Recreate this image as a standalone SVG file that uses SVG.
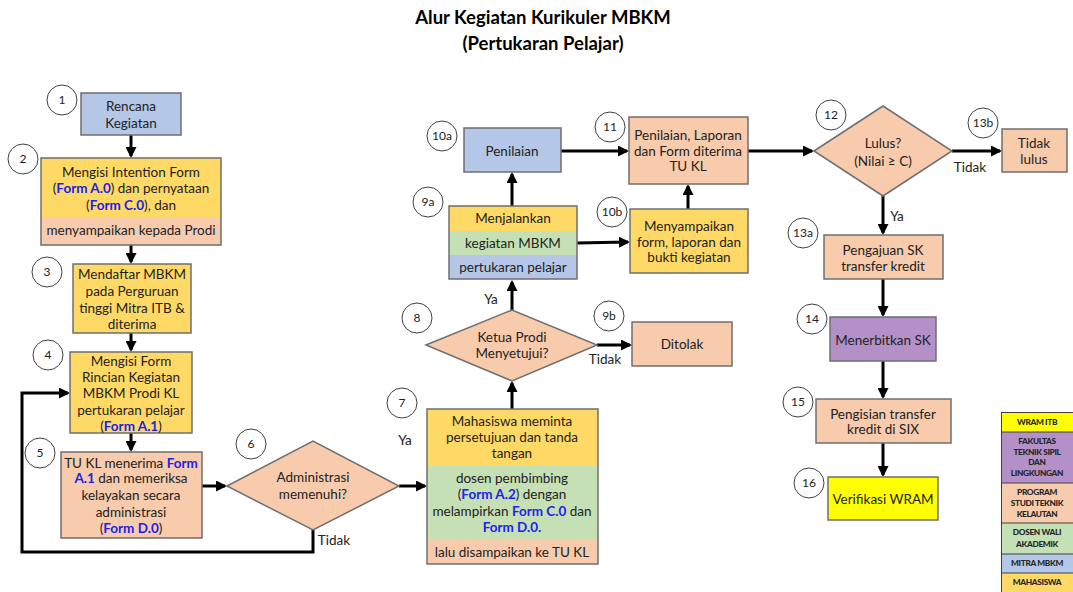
<svg xmlns="http://www.w3.org/2000/svg" width="1073" height="592" viewBox="0 0 1073 592">
<defs>
<marker id="ah" markerWidth="11" markerHeight="11" refX="9" refY="5.5" orient="auto" markerUnits="userSpaceOnUse">
<path d="M0,0 L11,5.5 L0,11 Z" fill="#000"/>
</marker>
<style>
text{font-family:Lato,"Liberation Sans",sans-serif;font-size:13.5px;fill:#222;text-anchor:middle}
.t{font-size:18.5px;font-weight:bold;fill:#000}
.b{fill:#2020ee;font-weight:bold}
.n{font-size:12px}
.lg{font-size:8.3px;font-weight:900;letter-spacing:-0.35px;fill:#262626}
.bx{stroke:#6f6f6f;stroke-width:1.5}
.blue{fill:#b4c7e7}.yel{fill:#ffd966}.peach{fill:#f8cbad}.green{fill:#c5e0b4}.purp{fill:#b391c8}.wram{fill:#ffff00}
.c{fill:#fff;stroke:#404040;stroke-width:1}
.cn path{fill:none;stroke:#000;stroke-width:3;marker-end:url(#ah)}
</style>
</defs>
<rect width="1073" height="592" fill="#fff"/>
<text class="t" x="543" y="24">Alur Kegiatan Kurikuler MBKM</text>
<text class="t" x="543" y="50">(Pertukaran Pelajar)</text>

<g id="connectors" class="cn">
<path d="M131,135 V156"/>
<path d="M131,245 V262"/>
<path d="M131,333 V350"/>
<path d="M131,433 V450"/>
<path d="M202,486 H225"/>
<path d="M313,530 V552 H22 V393 H68"/>
<path d="M399,486 H425"/>
<path d="M512,409 V383"/>
<path d="M597,345 H630"/>
<path d="M512,310 V282"/>
<path d="M512,206 V174"/>
<path d="M577,243 L628,242"/>
<path d="M561,151 H627"/>
<path d="M688,209 V186"/>
<path d="M748,151 H812"/>
<path d="M952,151 H1000"/>
<path d="M883,196 V233"/>
<path d="M883,279 V315"/>
<path d="M883,361 V397"/>
<path d="M883,443 V475"/>
</g>
<g id="edge-labels">
<text x="334" y="545">Tidak</text>
<text x="405" y="445">Ya</text>
<text x="605" y="364">Tidak</text>
<text x="491" y="304">Ya</text>
<text x="970" y="172">Tidak</text>
<text x="897" y="221">Ya</text>
</g>

<g id="n1">
<rect class="bx blue" x="81" y="93" width="100" height="42"/>
<text x="131" y="111">Rencana</text><text x="131" y="128">Kegiatan</text>
<circle class="c" cx="62" cy="100" r="15"/><text class="n" x="62" y="104">1</text>
</g>
<g id="n2">
<rect class="yel" x="41" y="158" width="180" height="59"/>
<rect class="peach" x="41" y="217" width="180" height="28"/>
<rect class="bx" fill="none" x="41" y="158" width="180" height="87"/>
<text x="131" y="177">Mengisi Intention Form</text>
<text x="131" y="193">(<tspan class="b">Form A.0</tspan>) dan pernyataan</text>
<text x="131" y="210">(<tspan class="b">Form C.0</tspan>), dan</text>
<text x="131" y="235">menyampaikan kepada Prodi</text>
<circle class="c" cx="23" cy="159" r="15"/><text class="n" x="23" y="163">2</text>
</g>
<g id="n3">
<rect class="bx yel" x="73" y="264" width="118" height="69"/>
<text x="132" y="279">Mendaftar MBKM</text>
<text x="132" y="296">pada Perguruan</text>
<text x="132" y="313">tinggi Mitra ITB &amp;</text>
<text x="132" y="329">diterima</text>
<circle class="c" cx="47" cy="272" r="15"/><text class="n" x="47" y="276">3</text>
</g>
<g id="n4">
<rect class="bx yel" x="70" y="352" width="122" height="81"/>
<text x="131" y="366">Mengisi Form</text>
<text x="131" y="382">Rincian Kegiatan</text>
<text x="131" y="398">MBKM Prodi KL</text>
<text x="131" y="415">pertukaran pelajar</text>
<text x="131" y="431">(<tspan class="b">Form A.1</tspan>)</text>
<circle class="c" cx="48" cy="355" r="15"/><text class="n" x="48" y="359">4</text>
</g>
<g id="n5">
<rect class="bx peach" x="61" y="452" width="141" height="86"/>
<text x="131" y="468">TU KL menerima <tspan class="b">Form</tspan></text>
<text x="131" y="483"><tspan class="b">A.1</tspan> dan memeriksa</text>
<text x="131" y="500">kelayakan secara</text>
<text x="131" y="517">administrasi</text>
<text x="131" y="533">(<tspan class="b">Form D.0</tspan>)</text>
<circle class="c" cx="40" cy="453" r="15"/><text class="n" x="40" y="457">5</text>
</g>
<g id="n6">
<path class="bx peach" d="M227,486 L313,441 L399,486 L313,530 Z"/>
<text x="313" y="482">Administrasi</text>
<text x="313" y="499">memenuhi?</text>
<circle class="c" cx="251" cy="444" r="15"/><text class="n" x="251" y="448">6</text>
</g>
<g id="n7">
<rect class="yel" x="427" y="409" width="171" height="57"/>
<rect class="green" x="427" y="466" width="171" height="73"/>
<rect class="peach" x="427" y="539" width="171" height="25"/>
<rect class="bx" fill="none" x="427" y="409" width="171" height="155"/>
<text x="512" y="426">Mahasiswa meminta</text>
<text x="512" y="442">persetujuan dan tanda</text>
<text x="512" y="458">tangan</text>
<text x="512" y="483">dosen pembimbing</text>
<text x="512" y="499">(<tspan class="b">Form A.2</tspan>) dengan</text>
<text x="512" y="516">melampirkan <tspan class="b">Form C.0</tspan> dan</text>
<text x="512" y="532"><tspan class="b">Form D.0.</tspan></text>
<text x="512" y="557">lalu disampaikan ke TU KL</text>
<circle class="c" cx="402" cy="403" r="15"/><text class="n" x="402" y="407">7</text>
</g>
<g id="n8">
<path class="bx peach" d="M426,345 L512,310 L597,345 L512,381 Z"/>
<text x="512" y="342">Ketua Prodi</text>
<text x="512" y="358">Menyetujui?</text>
<circle class="c" cx="417" cy="318" r="15"/><text class="n" x="417" y="322">8</text>
</g>
<g id="n9b">
<rect class="bx peach" x="632" y="322" width="100" height="44"/>
<text x="682" y="349">Ditolak</text>
<circle class="c" cx="609" cy="316" r="15"/><text class="n" x="609" y="320">9b</text>
</g>
<g id="n9a">
<rect class="yel" x="449" y="206" width="128" height="25"/>
<rect class="green" x="449" y="231" width="128" height="24"/>
<rect class="blue" x="449" y="255" width="128" height="24"/>
<rect class="bx" fill="none" x="449" y="206" width="128" height="73"/>
<text x="513" y="223">Menjalankan</text>
<text x="513" y="248">kegiatan MBKM</text>
<text x="513" y="272">pertukaran pelajar</text>
<circle class="c" cx="428" cy="202" r="15"/><text class="n" x="428" y="206">9a</text>
</g>
<g id="n10a">
<rect class="bx blue" x="464" y="128" width="97" height="44"/>
<text x="512" y="156">Penilaian</text>
<circle class="c" cx="442" cy="136" r="15"/><text class="n" x="442" y="140">10a</text>
</g>
<g id="n10b">
<rect class="bx yel" x="630" y="209" width="118" height="64"/>
<text x="689" y="231">Menyampaikan</text>
<text x="689" y="247">form, laporan dan</text>
<text x="689" y="262">bukti kegiatan</text>
<circle class="c" cx="612" cy="212" r="15"/><text class="n" x="612" y="216">10b</text>
</g>
<g id="n11">
<rect class="bx peach" x="629" y="117" width="119" height="67"/>
<text x="688" y="140">Penilaian, Laporan</text>
<text x="688" y="156">dan Form diterima</text>
<text x="688" y="171">TU KL</text>
<circle class="c" cx="610" cy="127" r="15"/><text class="n" x="610" y="131">11</text>
</g>
<g id="n12">
<path class="bx peach" d="M814,151 L883,106 L952,151 L883,196 Z"/>
<text x="883" y="148">Lulus?</text>
<text x="883" y="166">(Nilai ≥ C)</text>
<circle class="c" cx="831" cy="115" r="15"/><text class="n" x="831" y="119">12</text>
</g>
<g id="n13b">
<rect class="bx peach" x="1002" y="129" width="65" height="43"/>
<text x="1034" y="148">Tidak</text>
<text x="1034" y="164">lulus</text>
<circle class="c" cx="983" cy="123" r="15"/><text class="n" x="983" y="127">13b</text>
</g>
<g id="n13a">
<rect class="bx peach" x="824" y="235" width="119" height="44"/>
<text x="883" y="255">Pengajuan SK</text>
<text x="883" y="271">transfer kredit</text>
<circle class="c" cx="803" cy="233" r="15"/><text class="n" x="803" y="237">13a</text>
</g>
<g id="n14">
<rect class="bx purp" x="830" y="317" width="106" height="44"/>
<text x="883" y="345">Menerbitkan SK</text>
<circle class="c" cx="812" cy="319" r="15"/><text class="n" x="812" y="323">14</text>
</g>
<g id="n15">
<rect class="bx peach" x="816" y="399" width="135" height="44"/>
<text x="883" y="419">Pengisian transfer</text>
<text x="883" y="434">kredit di SIX</text>
<circle class="c" cx="798" cy="402" r="15"/><text class="n" x="798" y="406">15</text>
</g>
<g id="n16">
<rect class="bx wram" x="828" y="477" width="110" height="43"/>
<text x="883" y="504">Verifikasi WRAM</text>
<circle class="c" cx="809" cy="483" r="15"/><text class="n" x="809" y="487">16</text>
</g>

<g id="legend">
<rect class="wram" x="1001" y="412" width="72" height="20"/>
<rect class="purp" x="1001" y="432" width="72" height="51"/>
<rect class="peach" x="1001" y="483" width="72" height="40"/>
<rect class="green" x="1001" y="523" width="72" height="31"/>
<rect class="blue" x="1001" y="554" width="72" height="19"/>
<rect class="yel" x="1001" y="573" width="72" height="19"/>
<path d="M1001.5,412 V592 M1001,412.5 H1073 M1001,432 H1073 M1001,483 H1073 M1001,523 H1073 M1001,554 H1073 M1001,573 H1073" stroke="#404040" stroke-width="1" fill="none"/>
<text class="lg" x="1037" y="425">WRAM ITB</text>
<text class="lg" x="1037" y="444">FAKULTAS</text>
<text class="lg" x="1037" y="455">TEKNIK SIPIL</text>
<text class="lg" x="1037" y="465">DAN</text>
<text class="lg" x="1037" y="476">LINGKUNGAN</text>
<text class="lg" x="1037" y="495">PROGRAM</text>
<text class="lg" x="1037" y="506">STUDI TEKNIK</text>
<text class="lg" x="1037" y="517">KELAUTAN</text>
<text class="lg" x="1037" y="535">DOSEN WALI</text>
<text class="lg" x="1037" y="547">AKADEMIK</text>
<text class="lg" x="1037" y="566">MITRA MBKM</text>
<text class="lg" x="1037" y="585">MAHASISWA</text>
</g>
</svg>
